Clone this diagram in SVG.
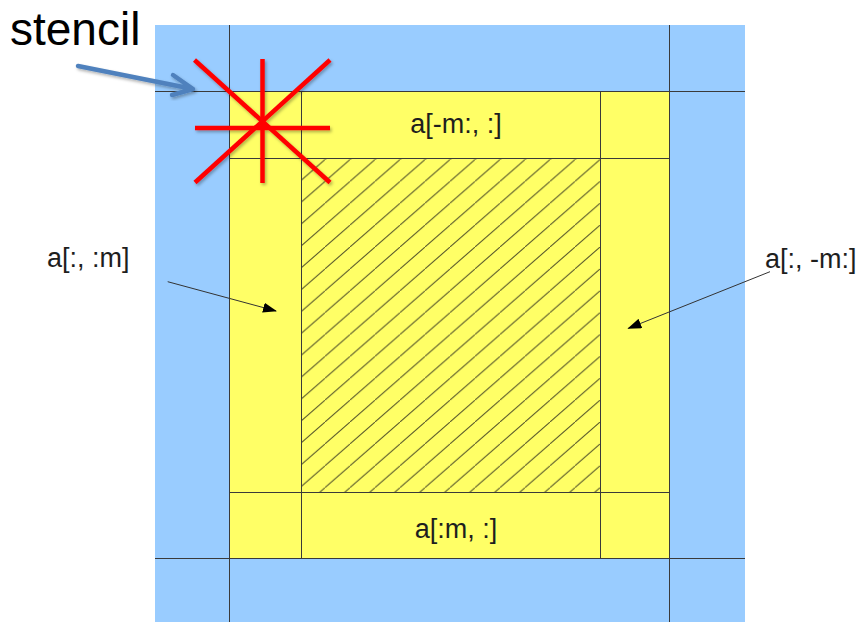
<svg xmlns="http://www.w3.org/2000/svg" width="862" height="622" viewBox="0 0 862 622">
<style>
.grid{stroke:#3a3a3a;stroke-width:1;fill:none}
.lbl{font-family:"Liberation Sans",Arial,sans-serif;font-size:27px;fill:#1e1e1e}
.red{stroke:#ff0000;stroke-width:4.5;stroke-linecap:butt;fill:none}
.thin{stroke:#333;stroke-width:1;fill:none}
</style>
<defs>
<pattern id="hatch" patternUnits="userSpaceOnUse" x="0" y="6.4" width="25" height="21.875">
<line x1="-2" y1="23.625" x2="27" y2="-1.75" stroke="#55552a" stroke-width="1"/>
</pattern>
<marker id="tri" viewBox="0 0 14 10" refX="13" refY="5" markerWidth="14" markerHeight="10" markerUnits="userSpaceOnUse" orient="auto">
<path d="M0,0 L14,5 L0,10 Z" fill="#000"/>
</marker>
<filter id="sh" x="-10%" y="-10%" width="130%" height="130%">
<feDropShadow dx="1.5" dy="2" stdDeviation="1.5" flood-color="#000" flood-opacity="0.3"/>
</filter>
</defs>
<g id="outer-halo">
<rect x="155" y="25" width="590" height="597" fill="#99ccff"/>
</g>
<g id="yellow-border">
<rect x="230" y="92" width="439" height="466" fill="#ffff66"/>
</g>
<g id="interior">
<rect x="302" y="158" width="298" height="334" fill="url(#hatch)"/>
</g>
<g id="grid">
<line class="grid" x1="155" y1="91.5" x2="745" y2="91.5"/>
<line class="grid" x1="155" y1="558.5" x2="745" y2="558.5"/>
<line class="grid" x1="229.5" y1="25" x2="229.5" y2="622"/>
<line class="grid" x1="669.5" y1="25" x2="669.5" y2="622"/>
<line class="grid" x1="301.5" y1="92" x2="301.5" y2="558"/>
<line class="grid" x1="600.5" y1="92" x2="600.5" y2="558"/>
<line class="grid" x1="230" y1="158.5" x2="669" y2="158.5"/>
<line class="grid" x1="230" y1="492.5" x2="669" y2="492.5"/>
</g>
<g id="label-top"><text class="lbl" x="456" y="133" text-anchor="middle">a[-m:, :]</text></g>
<g id="label-bottom"><text class="lbl" x="456" y="538" text-anchor="middle">a[:m, :]</text></g>
<g id="label-left"><text class="lbl" x="47" y="267">a[:, :m]</text></g>
<g id="label-right"><text class="lbl" x="765" y="268">a[:, -m:]</text></g>
<g id="stencil-label"><text x="10" y="45" font-family="'Liberation Sans',Arial,sans-serif" font-size="46" fill="#000">stencil</text></g>
<g id="stencil" filter="url(#sh)">
<line class="red" x1="195" y1="128" x2="330" y2="128"/>
<line class="red" x1="262.5" y1="59" x2="262.5" y2="183"/>
<line class="red" x1="194.5" y1="60" x2="330" y2="182.5"/>
<line class="red" x1="330" y1="60" x2="195" y2="182.5"/>
</g>
<g id="connectors">
<g filter="url(#sh)">
<path d="M78,66 L193,89 M173,75 L193,89 L172,95" stroke="#4f81bd" stroke-width="4.5" stroke-linecap="round" stroke-linejoin="round" fill="none"/>
</g>
<line class="thin" x1="167.7" y1="281.7" x2="276" y2="311" marker-end="url(#tri)"/>
<line class="thin" x1="770" y1="271.7" x2="628.3" y2="328.3" marker-end="url(#tri)"/>
</g>
</svg>
